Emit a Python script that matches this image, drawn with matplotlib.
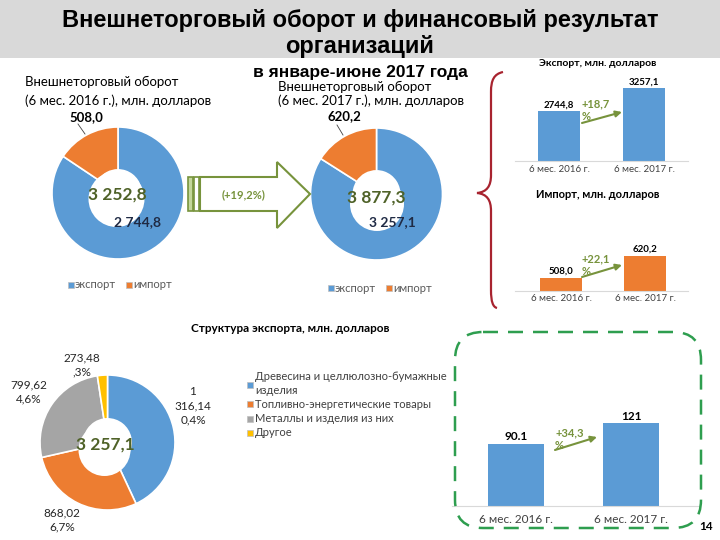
import matplotlib
matplotlib.use("Agg")
import matplotlib.pyplot as plt
from matplotlib.patches import Polygon, Rectangle, FancyBboxPatch, PathPatch, Circle
from matplotlib.path import Path
from matplotlib import font_manager

# ---------------- data ----------------
turnover_labels = ["экспорт", "импорт"]
turnover_2016 = [2744.8, 508.0]
turnover_2017 = [3257.1, 620.2]
turnover_total = ["3 252,8", "3 877,3"]
turnover_growth = "(+19,2%)"

period_labels = ["6 мес. 2016 г.", "6 мес. 2017 г."]
export_values = [2744.8, 3257.1]
export_value_text = ["2744,8", "3257,1"]
export_growth = "+18,7\n%"
import_values = [508.0, 620.2]
import_value_text = ["508,0", "620,2"]
import_growth = "+22,1\n%"

struct_labels = [["Древесина и целлюлозно-бумажные", "изделия"],
                 ["Топливно-энергетические товары"],
                 ["Металлы и изделия из них"],
                 ["Другое"]]
struct_values = [1316.14, 868.02, 799.62, 73.48]
struct_value_text = ["1\n316,14\n0,4%", "868,02\n6,7%", "799,62\n4,6%", "273,48\n,3%"]
struct_total = "3 257,1"

result_values = [90.1, 121]
result_value_text = ["90.1", "121"]
result_growth = "+34,3\n%"

# ---------------- style ----------------
BLUE, ORANGE, GRAY, YELLOW = "#5B9BD5", "#ED7D31", "#A5A5A5", "#FFC000"
OLIVE = "#77933C"
DKGREEN = "#4F6228"
avail = {f.name for f in font_manager.fontManager.ttflist}
TITLE_FONT = "Liberation Sans Narrow" if "Liberation Sans Narrow" in avail else "Liberation Sans"
BODY = "Lato"
plt.rcParams["font.family"] = [BODY, "DejaVu Sans"]

W, H = 720, 540
fig = plt.figure(figsize=(7.2, 5.4), dpi=100)


def px_axes(x0, y0, x1, y1, z=1):
    return fig.add_axes([x0 / W, 1 - y1 / H, (x1 - x0) / W, (y1 - y0) / H], zorder=z)


# background overlay (header band)
bg = px_axes(0, 0, W, H, z=0)
bg.set_xlim(0, W); bg.set_ylim(H, 0); bg.axis("off")
bg.add_patch(Rectangle((0, 0), W, 58, facecolor="#D9D9D9", edgecolor="none"))

# top overlay for text and shapes
ov = px_axes(0, 0, W, H, z=10)
ov.set_xlim(0, W); ov.set_ylim(H, 0); ov.axis("off")
ov.patch.set_alpha(0)

# titles
ov.text(360, 20, "Внешнеторговый оборот и финансовый результат", ha="center", va="center",
        fontsize=17, fontweight="bold", family=TITLE_FONT)
ov.text(360, 46, "организаций", ha="center", va="center",
        fontsize=17, fontweight="bold", family=TITLE_FONT)
ov.text(360, 73, "в январе-июне 2017 года", ha="center", va="center",
        fontsize=12.5, fontweight="bold", family=TITLE_FONT)


# ---------------- donuts ----------------
def donut(cx, cy, r, values, colors, hole_c, hole_r, width):
    ax = px_axes(cx - r, cy - r, cx + r, cy + r, z=2)
    ax.pie(values, colors=colors, startangle=90, counterclock=False, radius=1,
           wedgeprops=dict(width=width, edgecolor="white", linewidth=1.2))
    ax.set_xlim(-1, 1); ax.set_ylim(-1, 1); ax.set_aspect("equal"); ax.axis("off")
    ov.add_patch(Circle(hole_c, hole_r, facecolor="white", edgecolor="none", zorder=2))
    return ax


donut(118, 193, 66, turnover_2016, [BLUE, ORANGE], (116.5, 199), 28, 0.65)
donut(376.5, 194, 66, turnover_2017, [BLUE, ORANGE], (377, 204), 27, 0.65)

ov.text(25, 82, "Внешнеторговый оборот", fontsize=9.5, va="center")
ov.text(25, 101, "(6 мес. 2016 г.), млн. долларов", fontsize=9.5, va="center")
ov.text(278, 87, "Внешнеторговый оборот", fontsize=9.5, va="center")
ov.text(278, 101, "(6 мес. 2017 г.), млн. долларов", fontsize=9.5, va="center")

ov.text(86, 117, "508,0", fontsize=9.5, fontweight="bold", va="center", ha="center")
ov.plot([78, 85], [124, 134], color="#404040", lw=0.6)
ov.text(344, 116, "620,2", fontsize=9.5, fontweight="bold", va="center", ha="center")
ov.plot([337, 343], [125, 135], color="#404040", lw=0.6)
ov.text(138, 222, "2 744,8", fontsize=10, fontweight="bold", va="center", ha="center",
        color="#1F2A44", zorder=3)
ov.text(392, 222, "3 257,1", fontsize=10, fontweight="bold", va="center", ha="center",
        color="#1F2A44", zorder=3)
ov.text(117, 195, turnover_total[0], fontsize=12.5, fontweight="bold", va="center", ha="center",
        color=DKGREEN, zorder=5)
ov.text(376, 198, turnover_total[1], fontsize=12.5, fontweight="bold", va="center", ha="center",
        color=DKGREEN, zorder=5)


def legend_items(x_list, y, colors, labels, size=8):
    for x, c, lab in zip(x_list, colors, labels):
        ov.add_patch(Rectangle((x - 3, y - 3), 6, 6, facecolor=c, edgecolor="#BFBFBF", lw=0.5))
        ov.text(x + 4, y, lab, fontsize=size, va="center", color="#595959")


legend_items([71, 129], 285, [BLUE, ORANGE], turnover_labels)
legend_items([331, 389], 288, [BLUE, ORANGE], turnover_labels)

# big arrow
ov.add_patch(Polygon([(200, 177), (277, 177), (277, 162), (310, 194), (277, 228), (277, 211), (200, 211)],
                     closed=True, facecolor="white", edgecolor=OLIVE, lw=1.5, zorder=3))
ov.add_patch(Rectangle((188, 177), 4.5, 34, facecolor="#C4D79B", edgecolor=OLIVE, lw=1.2, zorder=3))
ov.add_patch(Rectangle((194, 177), 4.5, 34, facecolor="white", edgecolor=OLIVE, lw=1.2, zorder=3))
ov.text(244, 195, turnover_growth, fontsize=8, color=OLIVE, fontweight="bold", ha="center", va="center")

# brace
verts = [(503, 72), (494, 74), (491, 80), (491, 92),
         (491, 175),
         (491, 186), (487, 192), (477, 193),
         (487, 194), (491, 200), (491, 211),
         (491, 290),
         (491, 302), (493, 307), (497, 308)]
codes = [Path.MOVETO, Path.CURVE4, Path.CURVE4, Path.CURVE4,
         Path.LINETO,
         Path.CURVE4, Path.CURVE4, Path.CURVE4,
         Path.CURVE4, Path.CURVE4, Path.CURVE4,
         Path.LINETO,
         Path.CURVE4, Path.CURVE4, Path.CURVE4]
ov.add_patch(PathPatch(Path(verts, codes), facecolor="none", edgecolor="#A8232F", lw=1.6))


# ---------------- bar charts ----------------
def bar_chart(x0, x1, y_top, y_base, ymin, px_per_unit, values, color, centers_px, width_px,
              xtick_size, xtick_gap):
    ax = px_axes(x0, y_top, x1, y_base, z=2)
    ymax = ymin + (y_base - y_top) / px_per_unit
    unit = (centers_px[1] - centers_px[0])
    left = -(centers_px[0] - x0) / unit
    right = 1 + (x1 - centers_px[1]) / unit
    ax.bar([0, 1], values, width=width_px / unit, color=color, bottom=0)
    ax.set_xlim(left, right); ax.set_ylim(ymin, ymax)
    for s in ["top", "right", "left"]:
        ax.spines[s].set_visible(False)
    ax.spines["bottom"].set_color("#D9D9D9")
    ax.set_yticks([])
    ax.set_xticks([0, 1])
    ax.set_xticklabels(period_labels, fontsize=xtick_size, color="#404040")
    ax.tick_params(axis="x", length=0, pad=xtick_gap)
    ax.patch.set_alpha(0)
    return ax


# export
ov.text(598, 64, "Экспорт, млн. долларов", fontsize=7.5, fontweight="bold", ha="center", va="center")
bar_chart(515, 688, 80, 161, 1631, 0.0449, export_values, BLUE, [559, 644], 42, 7, 3)
ov.text(559, 105, export_value_text[0], fontsize=7, fontweight="bold", ha="center", va="center")
ov.text(644, 82, export_value_text[1], fontsize=7, fontweight="bold", ha="center", va="center")
ov.annotate("", xy=(622, 112), xytext=(582, 123),
            arrowprops=dict(arrowstyle="-|>", color=OLIVE, lw=1.5, mutation_scale=9,
                            shrinkA=0, shrinkB=0))
ov.text(582, 110, export_growth, fontsize=8, color=OLIVE, fontweight="bold", ha="left", va="center",
        linespacing=1.2)

# import
ov.text(598, 194, "Импорт, млн. долларов", fontsize=8, fontweight="bold", ha="center", va="center")
bar_chart(515, 688, 240, 291, 442, 0.196, import_values, ORANGE, [561, 645], 42, 7, 2)
ov.text(561, 271, import_value_text[0], fontsize=7, fontweight="bold", ha="center", va="center")
ov.text(645, 249, import_value_text[1], fontsize=7, fontweight="bold", ha="center", va="center")
ov.annotate("", xy=(622, 265), xytext=(582, 277),
            arrowprops=dict(arrowstyle="-|>", color=OLIVE, lw=1.5, mutation_scale=9,
                            shrinkA=0, shrinkB=0))
ov.text(582, 265, import_growth, fontsize=8, color=OLIVE, fontweight="bold", ha="left", va="center",
        linespacing=1.2)

# ---------------- export structure ----------------
ov.text(290, 329, "Структура экспорта, млн. долларов", fontsize=8.5, fontweight="bold",
        ha="center", va="center")
donut(107.5, 442.5, 67.5, struct_values, [BLUE, ORANGE, GRAY, YELLOW], (104.5, 450), 26, 0.65)
ov.text(105, 445, struct_total, fontsize=12.5, fontweight="bold", ha="center", va="center",
        color=DKGREEN, zorder=5)
ov.text(193, 406, struct_value_text[0], fontsize=8.5, ha="center", va="center", linespacing=1.35,
        color="#262626")
ov.text(62, 520, struct_value_text[1], fontsize=8.5, ha="center", va="center", linespacing=1.35,
        color="#262626")
ov.text(29, 392, struct_value_text[2], fontsize=8.5, ha="center", va="center", linespacing=1.35,
        color="#262626")
ov.text(82, 365, struct_value_text[3], fontsize=8.5, ha="center", va="center", linespacing=1.35,
        color="#262626")

leg_rows = [[376, 390], [404], [419], [433]]
for ys, c, lines in zip(leg_rows, [BLUE, ORANGE, GRAY, YELLOW], struct_labels):
    sq_y = (ys[0] + ys[-1]) / 2 + (2 if len(ys) > 1 else 0)
    ov.add_patch(Rectangle((247, sq_y - 3), 6, 6, facecolor=c, edgecolor="#BFBFBF", lw=0.5))
    for yy, line in zip(ys, lines):
        ov.text(255, yy, line, fontsize=8, va="center", color="#404040")

# ---------------- financial result ----------------
ov.add_patch(FancyBboxPatch((455, 332), 246, 196, boxstyle="round,pad=0,rounding_size=28",
                            facecolor="none", edgecolor="#2E9E4F", lw=1.8, linestyle=(0, (6, 4))))
bar_chart(452, 700, 380, 506, 0, 83 / 121, result_values, BLUE, [516, 631], 56, 8.5, 6)
ov.text(516, 437, result_value_text[0], fontsize=8.5, fontweight="bold", ha="center", va="center")
ov.text(631, 416, result_value_text[1], fontsize=8.5, fontweight="bold", ha="center", va="center")
ov.annotate("", xy=(597, 437), xytext=(555, 450),
            arrowprops=dict(arrowstyle="-|>", color=OLIVE, lw=1.5, mutation_scale=9,
                            shrinkA=0, shrinkB=0))
ov.text(555, 439, result_growth, fontsize=8, color=OLIVE, fontweight="bold", ha="left", va="center",
        linespacing=1.2)

ov.text(706, 527, "14", fontsize=8.5, fontweight="bold", ha="center", va="center")

fig.savefig("out.png", dpi=100)
